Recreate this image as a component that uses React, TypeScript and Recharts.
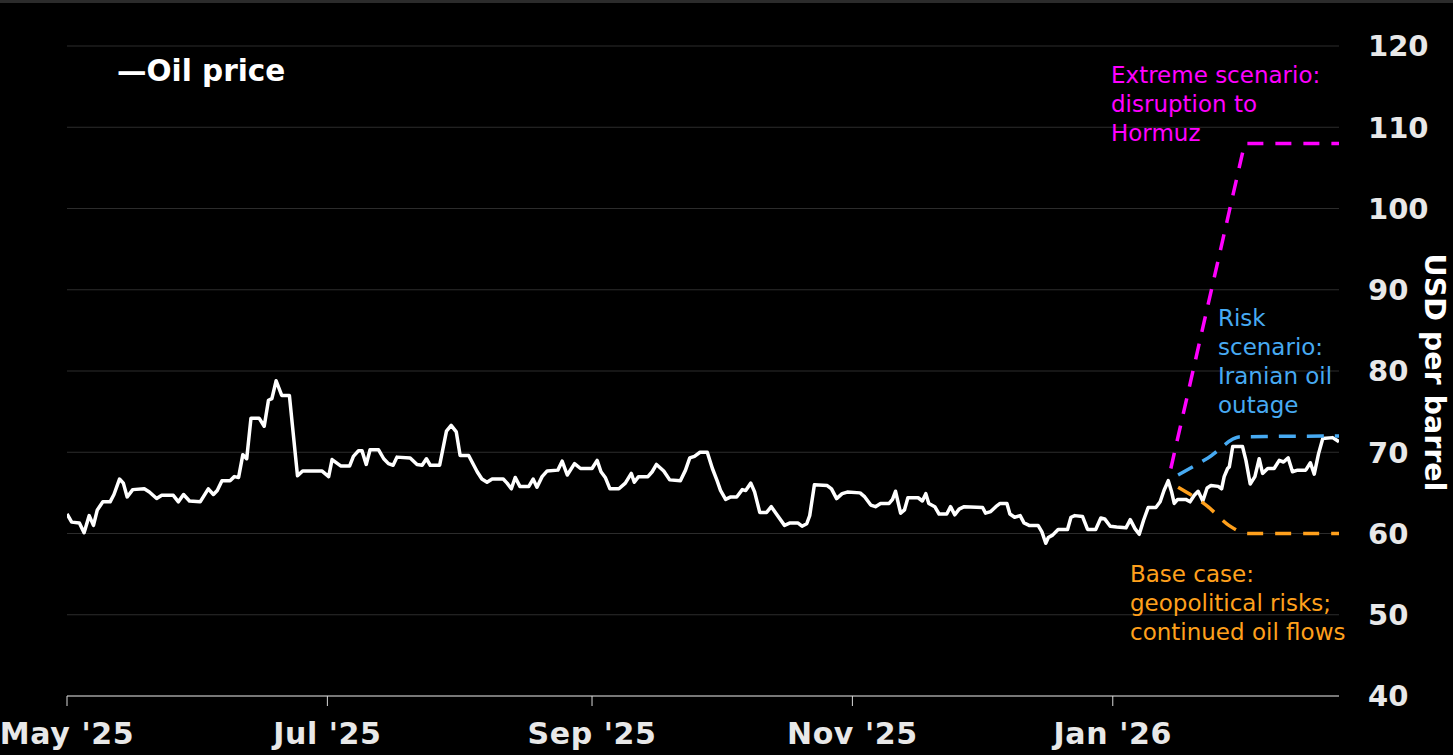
import React from 'react';
import { LineChart, Line, XAxis, YAxis, CartesianGrid } from 'recharts';

// Days since 2025-05-01
const priceDays = [
  0, 1.1, 2.9, 4.0, 5.2, 6.2, 7.1, 8.4, 10.1, 11.0,
  12.3, 13.2, 14.1, 15.4, 18.1, 19.3, 21.0, 22.2, 24.9, 26.1,
  27.3, 28.7, 31.2, 33.1, 34.3, 35.2, 36.3, 38.2, 39.2, 40.2,
  41.2, 42.1, 43.1, 45.0, 46.2, 47.2, 48.0, 49.0, 50.3, 52.1,
  54.0, 55.2, 59.7, 61.3, 62.1, 64.2, 66.2, 67.1, 68.3, 69.1,
  70.1, 71.0, 73.0, 74.2, 75.3, 76.4, 77.3, 80.4, 82.0, 83.2,
  84.2, 85.1, 87.3, 88.9, 90.0, 91.2, 92.1, 94.1, 96.1, 97.2,
  98.4, 99.6, 102.2, 103.1, 104.1, 105.0, 106.1, 108.2, 109.2, 110.1,
  111.3, 112.5, 115.0, 116.0, 117.2, 118.9, 120.3, 123.0, 124.2, 125.1,
  126.1, 127.2, 129.3, 130.8, 132.2, 132.9, 133.9, 136.1, 137.1, 138.1,
  139.8, 141.2, 143.7, 144.9, 145.9, 147.0, 148.3, 150.0, 151.2, 152.3,
  153.1, 154.3, 155.5, 156.9, 158.2, 159.0, 160.2, 161.1, 162.3, 163.9,
  165.0, 166.2, 168.1, 169.4, 171.2, 172.2, 173.3, 174.0, 175.1, 178.1,
  179.1, 180.3, 181.6, 182.8, 185.8, 186.9, 188.3, 189.4, 190.6, 192.6,
  193.4, 194.1, 195.3, 196.2, 197.0, 199.4, 200.4, 201.2, 201.9, 203.3,
  204.3, 206.1, 207.0, 208.0, 209.0, 210.2, 214.5, 215.2, 216.4, 217.6,
  218.6, 220.2, 220.9, 222.0, 223.3, 224.2, 225.4, 227.5, 228.4, 229.3,
  229.9, 230.9, 232.2, 234.4, 235.2, 236.1, 237.9, 239.1, 241.0, 242.2,
  243.1, 244.4, 245.9, 248.1, 249.1, 250.2, 251.2, 252.2, 253.3, 255.1,
  256.1, 257.0, 258.0, 258.8, 259.4, 260.2, 262.1, 263.1, 264.1, 265.0,
  266.1, 267.1, 268.0, 269.7, 270.5, 271.1, 271.9, 272.3, 273.1, 275.4,
  276.2, 277.2, 278.3, 279.3, 280.1, 281.3, 282.8, 284.0, 285.0, 286.1,
  287.1, 288.3, 290.2, 291.3, 292.2, 293.2, 294.2, 296.5, 298.0,
];

const priceValues = [
  62.4, 61.4, 61.3, 60.1, 62.2, 61.0, 62.9, 63.9, 63.9, 64.8,
  66.7, 66.2, 64.5, 65.4, 65.5, 65.1, 64.3, 64.7, 64.7, 63.9,
  64.8, 64.0, 63.9, 65.5, 64.8, 65.3, 66.5, 66.5, 67.0, 66.9,
  69.7, 69.2, 74.2, 74.2, 73.2, 76.4, 76.6, 78.8, 77.0, 77.0,
  67.1, 67.7, 67.7, 67.0, 69.1, 68.3, 68.3, 69.5, 70.2, 70.2,
  68.5, 70.3, 70.3, 69.2, 68.6, 68.4, 69.4, 69.3, 68.5, 68.4,
  69.2, 68.4, 68.4, 72.6, 73.3, 72.5, 69.6, 69.6, 67.6, 66.7,
  66.3, 66.7, 66.7, 66.2, 65.5, 66.9, 65.8, 65.8, 66.7, 65.7,
  67.0, 67.7, 67.8, 68.9, 67.2, 68.6, 68.0, 68.0, 69.0, 67.6,
  66.9, 65.5, 65.5, 66.2, 67.4, 66.3, 67.0, 67.0, 67.6, 68.5,
  67.7, 66.6, 66.5, 67.8, 69.3, 69.5, 70.0, 70.0, 68.0, 66.5,
  65.3, 64.2, 64.5, 64.5, 65.4, 65.3, 66.2, 65.1, 62.6, 62.6,
  63.3, 62.4, 61.0, 61.3, 61.3, 60.9, 61.2, 62.2, 66.0, 65.9,
  65.5, 64.3, 64.9, 65.1, 65.0, 64.5, 63.5, 63.3, 63.7, 63.7,
  64.2, 65.2, 62.5, 62.9, 64.4, 64.4, 64.0, 64.9, 63.7, 63.3,
  62.4, 62.4, 63.3, 62.3, 63.0, 63.3, 63.2, 62.5, 62.7, 63.3,
  63.7, 63.7, 62.4, 62.0, 62.2, 61.3, 61.0, 61.0, 60.2, 58.8,
  59.5, 59.8, 60.5, 60.5, 62.0, 62.2, 62.1, 60.5, 60.5, 61.9,
  61.8, 60.9, 60.8, 60.7, 61.7, 60.6, 59.9, 61.6, 63.2, 63.2,
  63.9, 65.3, 66.5, 65.1, 63.7, 64.2, 64.2, 63.9, 64.7, 65.2,
  64.0, 65.6, 65.9, 65.8, 65.5, 67.0, 68.0, 68.2, 70.7, 70.7,
  69.0, 66.1, 67.0, 69.2, 67.4, 68.0, 68.0, 69.0, 68.8, 69.3,
  67.6, 67.8, 67.8, 68.7, 67.3, 69.8, 71.7, 71.8, 71.3,
];

const extremeDays = [258.6, 275.9, 298];
const extremeValues = [68, 108, 108];

const riskDays = [260.3, 267.3, 275.0, 298];
const riskValues = [67.2, 69.3, 71.9, 72];

const baseDays = [260.3, 267.3, 272.2, 276.6, 298];
const baseValues = [65.7, 63.3, 61.0, 60.0, 60.0];

const xTicks = [0, 61, 123, 184, 245];
const xTickLabels = ["May '25", "Jul '25", "Sep '25", "Nov '25", "Jan '26"];
const yTicks = [40, 50, 60, 70, 80, 90, 100, 110, 120];

const extremeLabel = ['Extreme scenario:', 'disruption to', 'Hormuz'];
const riskLabel = ['Risk', 'scenario:', 'Iranian oil', 'outage'];
const baseLabel = ['Base case:', 'geopolitical risks;', 'continued oil flows'];

const toRows = (days: number[], vals: number[]) =>
  days.map((d, i) => ({ day: d, value: vals[i] }));

const priceData = toRows(priceDays, priceValues);
const extremeData = toRows(extremeDays, extremeValues);
const riskData = toRows(riskDays, riskValues);
const baseData = toRows(baseDays, baseValues);

const W = 1453;
const H = 755;
const MAGENTA = '#ff00ff';
const BLUE = '#47aaf2';
const ORANGE = '#ffa01c';

const tickStyle = {
  fontFamily: '"DejaVu Sans", sans-serif',
  fontWeight: 'bold' as const,
  fontSize: 29,
  fill: '#e8e8e8',
};

function TextBlock({ lines, x, y, color }: { lines: string[]; x: number; y: number; color: string }) {
  return (
    <g>
      {lines.map((t, i) => (
        <text
          key={i}
          x={x}
          y={y + i * 29}
          fill={color}
          fontFamily='"DejaVu Sans", sans-serif'
          fontSize={23}
        >
          {t}
        </text>
      ))}
    </g>
  );
}

export default function App() {
  return (
    <div
      style={{
        position: 'fixed',
        left: 0,
        top: 0,
        width: W,
        height: H,
        background: '#000',
        overflow: 'hidden',
      }}
    >
      <LineChart
        width={W}
        height={H}
        margin={{ top: 46, left: 67, right: 0, bottom: 0 }}
        style={{ position: 'absolute', left: 0, top: 0 }}
      >
        <CartesianGrid horizontal vertical={false} stroke="#2c2c2c" strokeWidth={1} />
        <XAxis
          dataKey="day"
          type="number"
          domain={[0, 298]}
          ticks={xTicks}
          interval={0}
          allowDataOverflow
          tickFormatter={(v: number) => xTickLabels[xTicks.indexOf(v)] ?? ''}
          height={59}
          tickSize={10}
          tickMargin={17}
          axisLine={{ stroke: '#d9d9d9', strokeWidth: 1 }}
          tickLine={{ stroke: '#d9d9d9', strokeWidth: 1 }}
          tick={{ ...tickStyle, fontSize: 30, letterSpacing: 0.6 }}
        />
        <YAxis
          orientation="right"
          type="number"
          domain={[40, 120]}
          ticks={yTicks}
          interval={0}
          width={114}
          axisLine={false}
          tickLine={false}
          tickSize={0}
          tickMargin={29}
          tick={{ ...tickStyle, textAnchor: 'start' }}
        />
        <Line
          data={priceData}
          dataKey="value"
          type="linear"
          stroke="#ffffff"
          strokeWidth={3.5}
          strokeLinejoin="round"
          dot={false}
          activeDot={false}
          isAnimationActive={false}
        />
        <Line
          data={extremeData}
          dataKey="value"
          type="linear"
          stroke={MAGENTA}
          strokeWidth={3.5}
          strokeDasharray="16 12"
          dot={false}
          activeDot={false}
          isAnimationActive={false}
        />
        <Line
          data={riskData}
          dataKey="value"
          type="monotone"
          stroke={BLUE}
          strokeWidth={3.5}
          strokeDasharray="17 11"
          dot={false}
          activeDot={false}
          isAnimationActive={false}
        />
        <Line
          data={baseData}
          dataKey="value"
          type="monotone"
          stroke={ORANGE}
          strokeWidth={3.5}
          strokeDasharray="16 12"
          dot={false}
          activeDot={false}
          isAnimationActive={false}
        />
      </LineChart>
      <svg
        width={W}
        height={H}
        style={{ position: 'absolute', left: 0, top: 0, pointerEvents: 'none' }}
      >
        <rect x={0} y={0} width={W} height={3} fill="#2b2b2b" />
        <text
          x={117}
          y={81}
          fill="#ffffff"
          fontFamily='"DejaVu Sans", sans-serif'
          fontWeight="bold"
          fontSize={29.5}
        >
          —Oil price
        </text>
        <TextBlock lines={extremeLabel} x={1111} y={83} color={MAGENTA} />
        <TextBlock lines={riskLabel} x={1218} y={326} color={BLUE} />
        <TextBlock lines={baseLabel} x={1130} y={582} color={ORANGE} />
        <text
          x={1425}
          y={372.5}
          transform="rotate(90 1425 372.5)"
          textAnchor="middle"
          fill="#ffffff"
          fontFamily='"DejaVu Sans", sans-serif'
          fontWeight="bold"
          fontSize={28.5}
        >
          USD per barrel
        </text>
      </svg>
    </div>
  );
}
